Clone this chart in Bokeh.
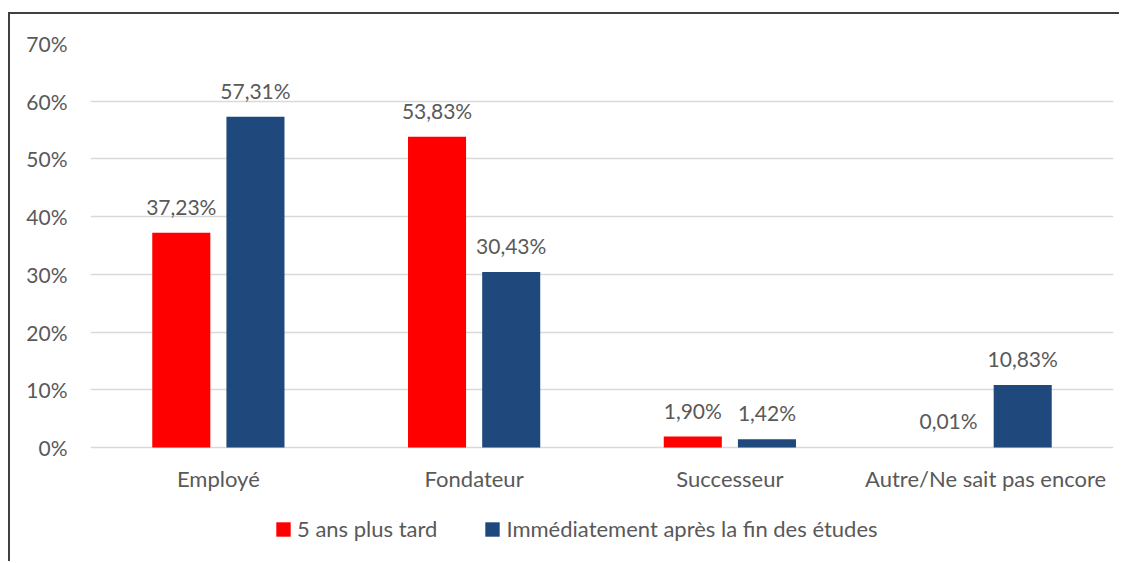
from bokeh.plotting import figure
from bokeh.models import (ColumnDataSource, FactorRange, Range1d, FixedTicker,
                          PrintfTickFormatter, LabelSet, Legend, LegendItem)
from bokeh.core.properties import value
from bokeh.transform import dodge
from bokeh.embed import file_html
from bokeh.resources import INLINE

categories = ["Employé", "Fondateur", "Successeur", "Autre/Ne sait pas encore"]
series_names = ["5 ans plus tard", "Immédiatement après la fin des études"]
five_years_later = [37.23, 53.83, 1.90, 0.01]
right_after_studies = [57.31, 30.43, 1.42, 10.83]
y_ticks = [0, 10, 20, 30, 40, 50, 60, 70]

RED = "#FF0000"
BLUE = "#1F497D"
TEXT = "#595959"
FONT = "Lato"
FS = "21px"
FS_TXT = "22px"


def fmt(v):
    return f"{v:.2f}".replace(".", ",") + "%"


src = ColumnDataSource(dict(
    cat=categories,
    a=five_years_later,
    b=right_after_studies,
    la=[fmt(v) for v in five_years_later],
    lb=[fmt(v) for v in right_after_studies],
))

W, H = 1111, 549
# frame: top at canvas 29, zero line at canvas 433, bottom at canvas 540
px_per_unit = (433 - 29) / 70.0
y_min = -(540 - 433) / px_per_unit
p = figure(x_range=FactorRange(*categories), y_range=Range1d(y_min, 70),
           width=W, height=H, output_backend="svg", toolbar_location=None,
           min_border_left=80, min_border_right=8, min_border_top=29,
           min_border_bottom=9)
p.styles = {"margin-left": "8px", "margin-top": "12px",
            "border-top": "2px solid #404040",
            "border-left": "2px solid #404040"}
p.outline_line_color = None
p.background_fill_color = "white"
p.border_fill_color = "white"

off = 0.145
bw = 0.227
ra = p.vbar(x=dodge("cat", -off, range=p.x_range), top="a", width=bw, source=src,
            fill_color=RED, line_color=None)
rb = p.vbar(x=dodge("cat", off, range=p.x_range), top="b", width=bw, source=src,
            fill_color=BLUE, line_color=None)

for col, lab, o in (("a", "la", -off), ("b", "lb", off)):
    ls = LabelSet(x=dodge("cat", o, range=p.x_range), y=col, text=lab, source=src,
                  y_offset=18, text_align="center", text_baseline="alphabetic",
                  text_font=value(FONT), text_font_size=value(FS),
                  text_color=value(TEXT))
    p.add_layout(ls)

# axes
p.yaxis.ticker = FixedTicker(ticks=y_ticks)
p.yaxis.formatter = PrintfTickFormatter(format="%d%%")
for ax in (p.xaxis[0], p.yaxis[0]):
    ax.axis_line_color = None
    ax.major_tick_line_color = None
    ax.minor_tick_line_color = None
    ax.major_tick_out = 0
    ax.major_tick_in = 0
    ax.major_label_text_font = FONT
    ax.major_label_text_color = TEXT
p.yaxis.major_label_text_font_size = FS
p.xaxis.major_label_text_font_size = FS_TXT
p.yaxis.major_label_standoff = 23
p.xaxis.major_label_standoff = 17
p.xaxis.fixed_location = 0

p.xgrid.grid_line_color = None
p.ygrid.grid_line_color = "#D9D9D9"
p.ygrid.grid_line_width = 1.5

legend = Legend(items=[LegendItem(label=series_names[0], renderers=[ra]),
                       LegendItem(label=series_names[1], renderers=[rb])],
                orientation="horizontal", location=(184, 12),
                padding=0, margin=0, spacing=46,
                glyph_width=18, glyph_height=18, label_standoff=5,
                label_text_font=FONT, label_text_font_size=FS_TXT,
                label_text_color=TEXT, border_line_color=None,
                background_fill_alpha=0)
p.add_layout(legend, "center")

open("out.html", "w").write(file_html(p, INLINE))
